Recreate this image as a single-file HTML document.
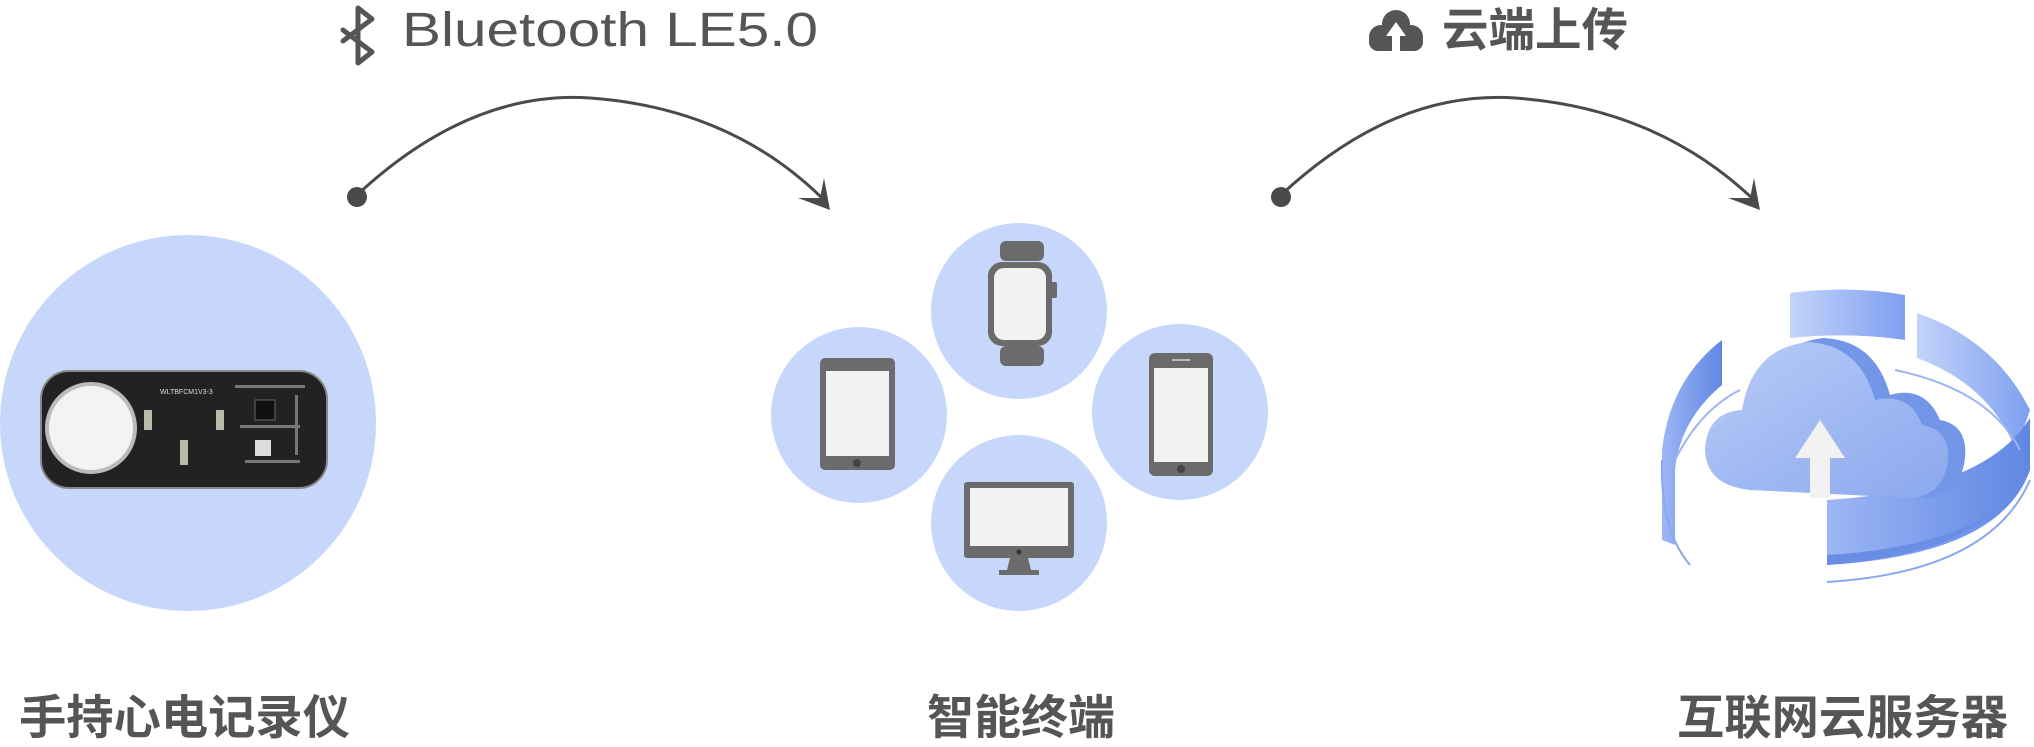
<!DOCTYPE html>
<html><head><meta charset="utf-8"><style>
html,body{margin:0;padding:0;background:#fff;}
svg{display:block}
</style></head><body>
<svg width="2034" height="747" viewBox="0 0 2034 747" xmlns="http://www.w3.org/2000/svg">
<defs>
<linearGradient id="cg" x1="0" y1="0" x2="1" y2="1"><stop offset="0" stop-color="#b9ccf8"/><stop offset="1" stop-color="#8aa8ee"/></linearGradient>
<linearGradient id="cg2" x1="0" y1="0" x2="1" y2="0"><stop offset="0" stop-color="#9db6f5"/><stop offset="1" stop-color="#6087e3"/></linearGradient>
<linearGradient id="rg" x1="0" y1="0" x2="1" y2="0"><stop offset="0" stop-color="#c3d3fa"/><stop offset="1" stop-color="#7f9ff0"/></linearGradient>
</defs>

<!-- top labels -->
<g fill="none" stroke="#555" stroke-width="5" stroke-linecap="round" stroke-linejoin="round">
<path d="M343 30 L372 52 L358 63 V8 L372 19 L343 41"/>
</g>
<text x="402" y="46" font-family="Liberation Sans, sans-serif" font-size="48" fill="#555" textLength="416" lengthAdjust="spacingAndGlyphs">Bluetooth LE5.0</text>

<g fill="#555">
<circle cx="1396" cy="24" r="14"/><circle cx="1381" cy="37" r="12"/><circle cx="1411" cy="37" r="12"/>
<rect x="1369" y="32" width="54" height="19" rx="9"/>
</g>
<path d="M1396 22 L1386 36 H1392 V51 H1400 V36 H1406 Z" fill="#fff"/>
<text x="1442" y="46" font-family="Liberation Sans, 'Noto Sans CJK SC', sans-serif" font-size="46" font-weight="bold" fill="#555" textLength="186" lengthAdjust="spacingAndGlyphs">云端上传</text>

<!-- arcs -->
<g fill="none" stroke="#4a4a4a" stroke-width="3">
<path d="M357 195 Q470 90 590 98 Q730 108 822 198"/>
<path d="M1281 195 Q1394 90 1515 98 Q1656 108 1752 198"/>
</g>
<g fill="#4a4a4a">
<circle cx="357" cy="197" r="10"/>
<circle cx="1281" cy="197" r="10"/>
<path d="M824 178 L830 210 L798 198 L820 198 Z"/>
<path d="M1754 178 L1760 210 L1728 198 L1750 198 Z"/>
</g>

<!-- big circle with PCB -->
<circle cx="188" cy="423" r="188" fill="#c7d7fb"/>
<rect x="41" y="371" width="286" height="117" rx="28" fill="#222" stroke="#888" stroke-width="2"/>
<circle cx="91" cy="428" r="44" fill="#f3f3f3" stroke="#bbb" stroke-width="4"/>
<rect x="144" y="410" width="8" height="20" fill="#bba"/>
<rect x="216" y="410" width="8" height="20" fill="#bba"/>
<rect x="180" y="440" width="8" height="25" fill="#bba"/>
<rect x="255" y="400" width="20" height="20" fill="#111" stroke="#666"/>
<rect x="255" y="440" width="16" height="16" fill="#ddd"/>
<text x="160" y="394" font-family="Liberation Sans, sans-serif" font-size="7" fill="#ddd">WLTBFCM1V3-3</text>
<g fill="#777"><rect x="235" y="385" width="70" height="3"/><rect x="240" y="425" width="60" height="3"/><rect x="245" y="460" width="55" height="3"/><rect x="295" y="395" width="3" height="60"/></g>

<!-- device circles -->
<g fill="#c7d7fb">
<circle cx="1019" cy="311" r="88"/>
<circle cx="859" cy="415" r="88"/>
<circle cx="1180" cy="412" r="88"/>
<circle cx="1019" cy="523" r="88"/>
</g>
<!-- watch -->
<rect x="1000" y="241" width="44" height="20" rx="6" fill="#6b6b6b"/>
<rect x="1000" y="346" width="44" height="20" rx="6" fill="#6b6b6b"/>
<rect x="988" y="262" width="64" height="84" rx="14" fill="#6b6b6b"/>
<rect x="1051" y="282" width="6" height="16" rx="2" fill="#6b6b6b"/>
<rect x="994" y="268" width="52" height="72" rx="10" fill="#f2f2f2"/>
<!-- tablet -->
<rect x="820" y="358" width="75" height="112" rx="5" fill="#6b6b6b"/>
<rect x="826" y="371" width="63" height="85" fill="#f2f2f2"/>
<circle cx="857" cy="463" r="4" fill="#444"/>
<!-- phone -->
<rect x="1149" y="353" width="64" height="123" rx="6" fill="#6b6b6b"/>
<rect x="1154" y="368" width="54" height="94" fill="#f2f2f2"/>
<circle cx="1181" cy="469" r="4" fill="#444"/>
<rect x="1172" y="359" width="18" height="2" fill="#bbb"/>
<!-- monitor -->
<rect x="964" y="482" width="110" height="76" rx="3" fill="#6b6b6b"/>
<rect x="970" y="488" width="98" height="58" fill="#f2f2f2"/>
<path d="M1010 558 h18 l3 12 h8 v5 h-40 v-5 h8 z" fill="#6b6b6b"/>
<circle cx="1019" cy="552" r="2.5" fill="#333"/>

<!-- cloud server graphic -->
<g>
<path d="M1790 293 Q1850 285 1905 295 L1905 340 Q1850 332 1790 338 Z" fill="url(#rg)"/>
<path d="M1917 313 Q1995 340 2030 410 L2016 450 Q1990 385 1917 358 Z" fill="url(#rg)"/>
<path d="M1722 340 Q1670 380 1662 450 L1662 540 L1675 545 L1675 470 Q1680 420 1722 385 Z" fill="url(#cg2)"/>
<path d="M1827 500 Q1985 490 2030 418 L2030 470 Q2000 555 1827 565 Z" fill="url(#cg2)"/>
<path d="M1827 565 Q1985 555 2030 470 L2022 480 Q1985 545 1827 555 Z" fill="#6a8de6"/>
<path d="M1662 460 Q1660 530 1690 565" fill="none" stroke="#8aa6ee" stroke-width="2"/>
<path d="M1827 582 Q1990 572 2030 480" fill="none" stroke="#8aa6ee" stroke-width="2"/>
<path d="M1675 460 Q1700 410 1740 390" fill="none" stroke="#9db4f2" stroke-width="2"/>
<path d="M1895 370 Q1990 390 2020 450" fill="none" stroke="#9db4f2" stroke-width="2"/>
<path d="M1760 488 Q1718 480 1720 445 Q1722 412 1757 408 Q1765 345 1823 338 Q1875 340 1890 395 Q1925 385 1940 420 Q1968 425 1965 458 Q1962 490 1930 498 Z" fill="#7396e8"/>
<path d="M1750 490 Q1705 485 1705 448 Q1708 412 1742 410 Q1752 348 1808 342 Q1860 345 1875 400 Q1910 392 1922 425 Q1950 430 1948 460 Q1945 492 1915 498 Z" fill="url(#cg)"/>
<path d="M1820 420 L1795 458 H1810 V498 H1830 V458 H1845 Z" fill="#f2f2f2"/>
</g>

<!-- bottom labels -->
<g font-family="Liberation Sans, 'Noto Sans CJK SC', sans-serif" font-size="47" font-weight="bold" fill="#555">
<text x="19" y="734" textLength="331" lengthAdjust="spacingAndGlyphs">手持心电记录仪</text>
<text x="927" y="734" textLength="188" lengthAdjust="spacingAndGlyphs">智能终端</text>
<text x="1677" y="734" textLength="331" lengthAdjust="spacingAndGlyphs">互联网云服务器</text>
</g>
</svg>
</body></html>
